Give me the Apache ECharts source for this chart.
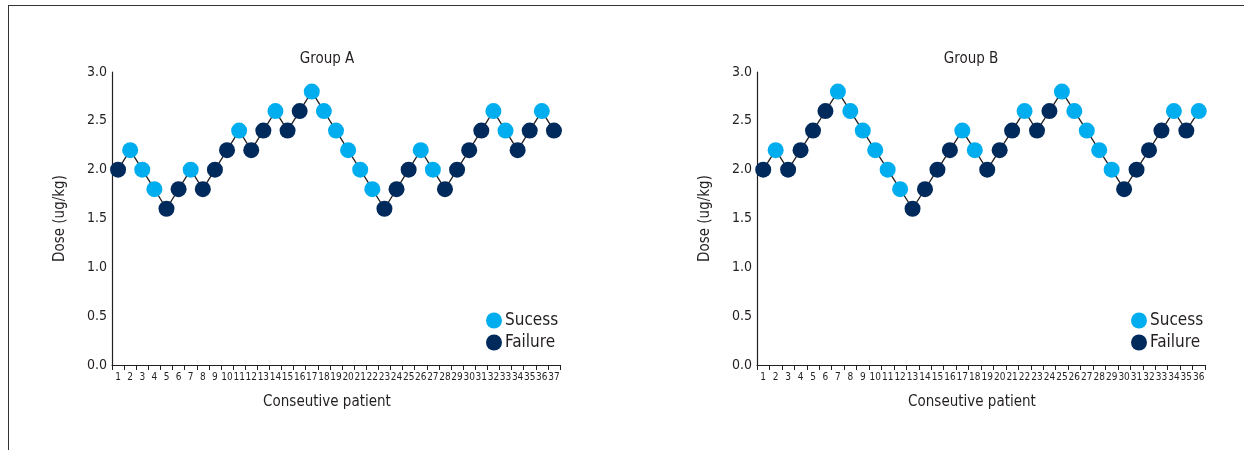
<!DOCTYPE html>
<html><head><meta charset="utf-8">
<script src="https://cdn.jsdelivr.net/npm/echarts@6/dist/echarts.min.js"></script>
<style>html,body{margin:0;padding:0;background:#fff}#c{width:1244px;height:450px}</style>
</head><body><div id="c"></div>
<script>
// Group A
const patientsA = Array.from({length:37},(_,i)=>String(i+1));
const doseA = [2.0,2.2,2.0,1.8,1.6,1.8,2.0,1.8,2.0,2.2,2.4,2.2,2.4,2.6,2.4,2.6,2.8,2.6,2.4,2.2,2.0,1.8,1.6,1.8,2.0,2.2,2.0,1.8,2.0,2.2,2.4,2.6,2.4,2.2,2.4,2.6,2.4];
const outcomeA = ['F','S','S','S','F','F','S','F','F','F','S','F','F','S','F','F','S','S','S','S','S','S','F','F','F','S','S','F','F','F','F','S','S','F','F','S','F'];
// Group B
const patientsB = Array.from({length:36},(_,i)=>String(i+1));
const doseB = [2.0,2.2,2.0,2.2,2.4,2.6,2.8,2.6,2.4,2.2,2.0,1.8,1.6,1.8,2.0,2.2,2.4,2.2,2.0,2.2,2.4,2.6,2.4,2.6,2.8,2.6,2.4,2.2,2.0,1.8,2.0,2.2,2.4,2.6,2.4,2.6];
const outcomeB = ['F','S','F','F','F','F','S','S','S','S','S','S','F','F','F','F','S','S','F','F','F','S','F','F','S','S','S','S','S','F','F','F','F','S','F','S'];
const yTicks = [0,0.5,1.0,1.5,2.0,2.5,3.0];

const FONT = '"Liberation Sans Narrow","DejaVu Sans Condensed","Roboto Condensed",sans-serif';
const SUC = '#00aeef', FAIL = '#002a5c', LINE = '#231f20', TXT = '#231f20';

const grids = [
  {left:112, width:448, top:72, bottom:85},
  {left:757, width:448, top:72, bottom:85}
];
function xAxis(cats, gi){
  return {type:'category', gridIndex:gi, data:cats, boundaryGap:true,
    axisLine:{lineStyle:{color:LINE,width:1.2}},
    axisTick:{show:true, length:5, interval:0, lineStyle:{color:LINE}},
    axisLabel:{interval:0, color:TXT, fontFamily:FONT, fontSize:10, margin:7},
    name:'Conseutive patient', nameLocation:'middle', nameGap:30,
    nameTextStyle:{color:TXT, fontFamily:FONT, fontSize:15, padding:[0,18,0,0]}};
}
function yAxis(gi){
  return {type:'value', gridIndex:gi, min:0, max:3, interval:0.5,
    axisLine:{show:true, lineStyle:{color:LINE,width:1.2}},
    axisTick:{show:false}, splitLine:{show:false},
    axisLabel:{color:TXT, fontFamily:FONT, fontSize:14, margin:5, formatter:v=>v.toFixed(1)},
    name:'Dose (ug/kg)', nameLocation:'middle', nameGap:44,
    nameTextStyle:{color:TXT, fontFamily:FONT, fontSize:15}};
}
function seriesFor(dose, outc, gi){
  return [
    {type:'line', xAxisIndex:gi, yAxisIndex:gi, data:dose, symbol:'none',
      lineStyle:{color:LINE,width:1.3}, silent:true, z:1},
    {name:'Sucess', type:'scatter', xAxisIndex:gi, yAxisIndex:gi, symbolSize:16,
      data:dose.map((v,i)=>outc[i]==='S'?v:'-'), itemStyle:{color:SUC, opacity:1}, z:2},
    {name:'Failure', type:'scatter', xAxisIndex:gi, yAxisIndex:gi, symbolSize:16,
      data:dose.map((v,i)=>outc[i]==='F'?v:'-'), itemStyle:{color:FAIL, opacity:1}, z:2}
  ];
}
function legend(left){
  return {orient:'vertical', left:left, top:307, icon:'circle', itemWidth:16, itemHeight:16,
    itemGap:5, data:['Sucess','Failure'],
    textStyle:{color:TXT, fontFamily:FONT, fontSize:17, padding:[0,0,0,-2]}};
}
const chart = echarts.init(document.getElementById('c'), null, {renderer:'canvas'});
chart.setOption({
  animation:false,
  backgroundColor:'#fff',
  title:[
    {text:'Group A', left:322, top:47, textAlign:'center', textStyle:{color:TXT, fontFamily:FONT, fontSize:15, fontWeight:'normal'}},
    {text:'Group B', left:966, top:47, textAlign:'center', textStyle:{color:TXT, fontFamily:FONT, fontSize:15, fontWeight:'normal'}}
  ],
  grid:grids,
  xAxis:[xAxis(patientsA,0), xAxis(patientsB,1)],
  yAxis:[yAxis(0), yAxis(1)],
  legend:[legend(481), legend(1126)],
  graphic:[
    {type:'line', shape:{x1:8,y1:5.5,x2:1244,y2:5.5}, style:{stroke:'#333',lineWidth:1}},
    {type:'line', shape:{x1:8.5,y1:5,x2:8.5,y2:450}, style:{stroke:'#333',lineWidth:1}}
  ],
  series:[...seriesFor(doseA,outcomeA,0), ...seriesFor(doseB,outcomeB,1)]
});
</script></body></html>
